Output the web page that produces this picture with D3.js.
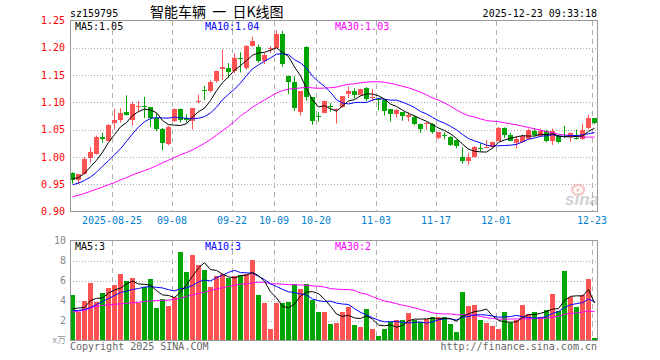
<!DOCTYPE html>
<html>
<head>
<meta charset="utf-8">
<script src="https://cdn.jsdelivr.net/npm/d3@7"></script>
<style>
  body { margin: 0; background: #fff; }
  svg text { font-family: "DejaVu Sans Mono", monospace; font-size: 10px; }
</style>
</head>
<body>
<svg id="chart" width="660" height="360"></svg>
<script>
// trading days shown on the chart
const dates = [
  "2025-08-14","2025-08-15","2025-08-18","2025-08-19","2025-08-20","2025-08-21","2025-08-22","2025-08-25","2025-08-26","2025-08-27","2025-08-28","2025-08-29",
  "2025-09-01","2025-09-02","2025-09-03","2025-09-04","2025-09-05","2025-09-08","2025-09-09","2025-09-10","2025-09-11","2025-09-12",
  "2025-09-15","2025-09-16","2025-09-17","2025-09-18","2025-09-19","2025-09-22","2025-09-23","2025-09-24","2025-09-25","2025-09-26","2025-09-29","2025-09-30",
  "2025-10-09","2025-10-10","2025-10-13","2025-10-14","2025-10-15","2025-10-16","2025-10-17","2025-10-20","2025-10-21","2025-10-22","2025-10-23","2025-10-24",
  "2025-10-27","2025-10-28","2025-10-29","2025-10-30","2025-10-31",
  "2025-11-03","2025-11-04","2025-11-05","2025-11-06","2025-11-07","2025-11-10","2025-11-11","2025-11-12","2025-11-13","2025-11-14",
  "2025-11-17","2025-11-18","2025-11-19","2025-11-20","2025-11-21","2025-11-24","2025-11-25","2025-11-26","2025-11-27","2025-11-28",
  "2025-12-01","2025-12-02","2025-12-03","2025-12-04","2025-12-05","2025-12-08","2025-12-09","2025-12-10","2025-12-11","2025-12-12",
  "2025-12-15","2025-12-16","2025-12-17","2025-12-18","2025-12-19","2025-12-22","2025-12-23"
];

const open = [
  0.970,0.957,0.969,0.998,1.006,1.037,1.030,1.063,1.068,1.083,
  1.068,1.091,1.093,1.091,1.071,1.052,1.023,1.066,1.087,1.071,
  1.065,1.100,1.122,1.120,1.140,1.162,1.163,1.157,1.182,1.163,
  1.203,1.202,1.176,1.198,1.200,1.225,1.149,1.137,1.082,1.202,
  1.109,1.075,1.081,1.093,1.086,1.092,1.116,1.120,1.114,1.126,
  1.108,1.107,1.105,1.087,1.078,1.082,1.074,1.074,1.061,1.060,
  1.061,1.034,1.040,1.036,1.031,1.000,0.993,1.000,1.017,1.018,
  1.018,1.030,1.053,1.041,1.026,1.027,1.033,1.047,1.039,1.047,
  1.029,1.038,1.038,1.036,1.035,1.032,1.053,1.071
];
const high = [
  0.972,0.969,1.000,1.018,1.039,1.044,1.060,1.088,1.089,1.113,
  1.101,1.102,1.110,1.091,1.080,1.053,1.057,1.089,1.089,1.078,
  1.089,1.114,1.130,1.141,1.158,1.197,1.172,1.190,1.192,1.205,
  1.220,1.206,1.191,1.203,1.232,1.231,1.149,1.148,1.120,1.203,
  1.109,1.082,1.103,1.099,1.089,1.112,1.129,1.126,1.125,1.128,
  1.124,1.108,1.106,1.087,1.088,1.082,1.082,1.076,1.061,1.064,
  1.062,1.046,1.045,1.038,1.032,1.018,1.007,1.020,1.025,1.031,
  1.028,1.055,1.054,1.044,1.038,1.041,1.052,1.053,1.052,1.050,
  1.052,1.040,1.057,1.045,1.050,1.061,1.077,1.071
];
const low = [
  0.951,0.950,0.968,0.990,1.004,1.026,1.029,1.050,1.063,1.076,
  1.058,1.083,1.071,1.055,1.047,1.012,1.021,1.064,1.063,1.063,
  1.050,1.099,1.104,1.118,1.136,1.141,1.145,1.153,1.155,1.160,
  1.202,1.173,1.170,1.190,1.199,1.165,1.115,1.084,1.076,1.103,
  1.059,1.065,1.080,1.083,1.061,1.090,1.108,1.107,1.113,1.102,
  1.102,1.085,1.076,1.065,1.072,1.066,1.065,1.058,1.044,1.050,
  1.043,1.032,1.032,1.020,1.016,0.988,0.985,0.999,1.010,1.016,
  1.015,1.029,1.035,1.029,1.015,1.026,1.032,1.038,1.037,1.027,
  1.022,1.025,1.034,1.028,1.032,1.031,1.051,1.060
];
const close = [
  0.958,0.968,0.997,1.009,1.037,1.032,1.058,1.068,1.080,1.077,
  1.097,1.093,1.092,1.071,1.052,1.026,1.055,1.087,1.068,1.068,
  1.089,1.102,1.120,1.138,1.157,1.164,1.155,1.181,1.180,1.203,
  1.213,1.176,1.186,1.200,1.225,1.171,1.138,1.090,1.120,1.109,
  1.065,1.074,1.102,1.091,1.088,1.111,1.121,1.114,1.125,1.106,
  1.110,1.105,1.084,1.078,1.086,1.075,1.076,1.061,1.052,1.062,
  1.045,1.045,1.038,1.022,1.020,0.992,1.000,1.018,1.016,1.019,
  1.027,1.053,1.041,1.030,1.033,1.038,1.049,1.041,1.047,1.029,
  1.047,1.027,1.036,1.044,1.034,1.050,1.071,1.063
];
// volume, 10k units
const volume = [
  4.57,2.83,4.0,5.77,3.9,4.77,5.27,5.57,6.67,6.0,
  6.27,3.77,5.4,6.2,3.27,4.17,3.47,4.37,8.87,6.87,
  8.57,7.57,7.07,5.37,6.47,6.67,6.27,6.47,6.57,6.67,
  8.1,4.57,3.77,1.17,3.77,3.77,3.87,5.67,5.17,5.67,
  4.07,2.87,2.87,1.67,1.77,2.87,3.4,1.57,1.37,3.17,
  1.17,0.47,1.17,1.83,2.03,2.03,2.77,2.03,1.83,2.17,
  2.37,2.37,2.37,1.67,0.87,4.87,3.47,3.57,2.07,1.77,
  1.47,1.17,2.87,1.77,2.1,3.57,2.67,2.87,2.37,3.07,
  4.67,2.97,6.97,4.37,3.37,4.57,6.17,0.27
];

// moving average values before the window is full
const priceMa5Head = [0.960,0.962,0.970,0.982];
const priceMa10Head = [0.949,0.952,0.957,0.963,0.972,0.983,0.993,1.004,1.015];
const priceMa30Head = [0.927,0.930,0.933,0.937,0.941,0.945,0.949,0.953,0.958,0.962,
  0.967,0.971,0.975,0.979,0.984,0.989,0.994,0.999,1.004,1.008,
  1.013,1.019,1.025,1.032,1.040,1.048,1.056,1.065,1.075];
const volMa5Head = [3.17,3.25,3.3,4.0];
const volMa10Head = [3.0,3.0,3.1,3.3,3.6,3.9,4.2,4.5,4.8];
const volMa30Head = [2.83,2.93,3.03,3.23,3.43,3.5,3.57,3.62,3.67,3.72,
  3.77,3.83,3.9,3.95,4.0,4.02,4.03,4.13,4.23,4.4,
  4.57,4.7,4.83,5.0,5.17,5.28,5.4,5.52,5.63];

const tickDates = ["2025-08-25","2025-09-08","2025-09-22","2025-10-09","2025-10-20","2025-11-03","2025-11-17","2025-12-01","2025-12-23"];
const tickLabels = ["2025-08-25","09-08","09-22","10-09","10-20","11-03","11-17","12-01","12-23"];
const priceTicks = [0.90,0.95,1.00,1.05,1.10,1.15,1.20,1.25];
const volTicks = [2,4,6,8,10];

const red = "#ff5353", green = "#00a600";
const left = 70, right = 597;

const svg = d3.select("#chart");

const x = d3.scaleBand().domain(dates).range([left, right]).paddingInner(1 / 6).paddingOuter(0);
const yP = d3.scaleLinear().domain([0.90, 1.25]).range([211.5, 20.5]);
const yV = d3.scaleLinear().domain([0, 10]).range([340.5, 240.5]);

function movingAvg(values, n, head) {
  return values.map((v, i) => i < n - 1 ? head[i] : d3.mean(values.slice(i - n + 1, i + 1)));
}

// header
svg.append("text").attr("x", 70).attr("y", 16.5).text("sz159795");
svg.append("text").attr("x", 150).attr("y", 17)
  .style("font-family", "'Noto Sans CJK SC', sans-serif").style("font-size", "14px")
  .style("white-space", "pre")
  .text("智能车辆  一  日K线图");
svg.append("text").attr("x", 597).attr("y", 16.5).attr("text-anchor", "end").text("2025-12-23 09:33:18");

// panels: grid + frame
function panel(y0, y1, yScale, ticks) {
  const g = svg.append("g");
  g.selectAll(".h").data(ticks).join("line")
    .attr("x1", left).attr("x2", right)
    .attr("y1", d => Math.round(yScale(d)) + 0.5).attr("y2", d => Math.round(yScale(d)) + 0.5)
    .attr("stroke", "#aaa").attr("stroke-dasharray", "1,2");
  g.selectAll(".v").data(tickDates).join("line")
    .attr("x1", d => x(d) + 0.5).attr("x2", d => x(d) + 0.5)
    .attr("y1", y0).attr("y2", y1)
    .attr("stroke", "#b0b0b0").attr("stroke-dasharray", "5,4");
  return g;
}
panel(21, 211, yP, priceTicks.slice(1, -1));
panel(241, 340, yV, [2, 4, 6, 8]);

// watermark
const wm = svg.append("g").attr("opacity", 0.4);
wm.append("ellipse").attr("cx", 578).attr("cy", 190).attr("rx", 6).attr("ry", 5)
  .attr("fill", "none").attr("stroke", "#f08080").attr("stroke-width", 2.5);
wm.append("circle").attr("cx", 578).attr("cy", 190).attr("r", 1.8).attr("fill", "#f08080");
wm.append("text").attr("x", 565).attr("y", 205)
  .style("font-family", "'Liberation Sans', sans-serif").style("font-size", "17px")
  .style("font-style", "italic").style("font-weight", "bold")
  .attr("fill", "#909090").text("sina");

// candles
const candles = svg.append("g");
dates.forEach((d, i) => {
  const up = close[i] >= open[i];
  const c = up ? red : green;
  const cx = x(d) + 2.5;
  candles.append("line").attr("x1", cx).attr("x2", cx)
    .attr("y1", yP(high[i])).attr("y2", yP(low[i])).attr("stroke", c);
  const top = yP(Math.max(open[i], close[i]));
  const h = Math.max(1, Math.abs(yP(open[i]) - yP(close[i])));
  candles.append("rect").attr("x", x(d)).attr("width", x.bandwidth())
    .attr("y", top).attr("height", h).attr("fill", c).attr("shape-rendering", "crispEdges");
});

// volume bars
svg.append("g").selectAll("rect").data(dates).join("rect")
  .attr("x", d => x(d)).attr("width", x.bandwidth())
  .attr("y", (d, i) => yV(volume[i])).attr("height", (d, i) => yV(0) - yV(volume[i]))
  .attr("fill", (d, i) => close[i] >= open[i] ? red : green)
  .attr("shape-rendering", "crispEdges");

// MA lines
function maLine(vals, yScale, color) {
  const line = d3.line().x((v, i) => x(dates[i]) + 2.5).y(v => yScale(v));
  svg.append("path").datum(vals).attr("fill", "none").attr("stroke", color)
    .attr("stroke-width", 1).attr("d", line);
}
maLine(movingAvg(close, 30, priceMa30Head), yP, "#ff00ff");
maLine(movingAvg(close, 10, priceMa10Head), yP, "#0000ff");
maLine(movingAvg(close, 5, priceMa5Head), yP, "#000");
maLine(movingAvg(volume, 30, volMa30Head), yV, "#ff00ff");
maLine(movingAvg(volume, 10, volMa10Head), yV, "#0000ff");
maLine(movingAvg(volume, 5, volMa5Head), yV, "#000");

// frames
svg.append("rect").attr("x", left + 0.5).attr("y", 20.5).attr("width", right - left).attr("height", 191)
  .attr("fill", "none").attr("stroke", "#999");
svg.append("rect").attr("x", left + 0.5).attr("y", 240.5).attr("width", right - left).attr("height", 100)
  .attr("fill", "none").attr("stroke", "#999");

// MA legends
const legends = [
  { x: 75, y: 29.5, t: "MA5:1.05", c: "#000" },
  { x: 205, y: 29.5, t: "MA10:1.04", c: "#0000ff" },
  { x: 335, y: 29.5, t: "MA30:1.03", c: "#ff00ff" },
  { x: 75, y: 250, t: "MA5:3", c: "#000" },
  { x: 205, y: 250, t: "MA10:3", c: "#0000ff" },
  { x: 335, y: 250, t: "MA30:2", c: "#ff00ff" }
];
svg.selectAll(".leg").data(legends).join("text")
  .attr("x", d => d.x).attr("y", d => d.y).attr("fill", d => d.c).text(d => d.t);

// axes
const ax = svg.append("g").attr("transform", "translate(70,0)")
  .call(d3.axisLeft(yP).tickValues(priceTicks).tickSize(0).tickPadding(5).tickFormat(d3.format(".2f")));
ax.select(".domain").remove();
ax.selectAll("text").attr("fill", "#ff0000").style("font-family", "'DejaVu Sans Mono', monospace").style("font-size", "10px");

const av = svg.append("g").attr("transform", "translate(70,0)")
  .call(d3.axisLeft(yV).tickValues(volTicks).tickSize(0).tickPadding(4).tickFormat(d3.format("d")));
av.select(".domain").remove();
av.selectAll("text").attr("fill", "#888").style("font-family", "'DejaVu Sans Mono', monospace").style("font-size", "10px");
svg.append("text").attr("x", 66).attr("y", 343).attr("text-anchor", "end").attr("fill", "#999")
  .style("font-family", "'Noto Sans CJK SC', sans-serif").style("font-size", "9px").text("x万");

const axd = svg.append("g").attr("transform", "translate(-2.5,211)")
  .call(d3.axisBottom(x).tickValues(tickDates).tickSize(0).tickPadding(6).tickFormat((d, i) => tickLabels[i]));
axd.select(".domain").remove();
axd.selectAll("text").attr("fill", "#0080d0").style("font-family", "'DejaVu Sans Mono', monospace").style("font-size", "10px");

// footer
svg.append("text").attr("x", 70).attr("y", 349.5).attr("fill", "#666").text("Copyright 2025 SINA.COM");
svg.append("text").attr("x", 597).attr("y", 349.5).attr("text-anchor", "end").attr("fill", "#666").text("http://finance.sina.com.cn");
</script>
</body>
</html>
